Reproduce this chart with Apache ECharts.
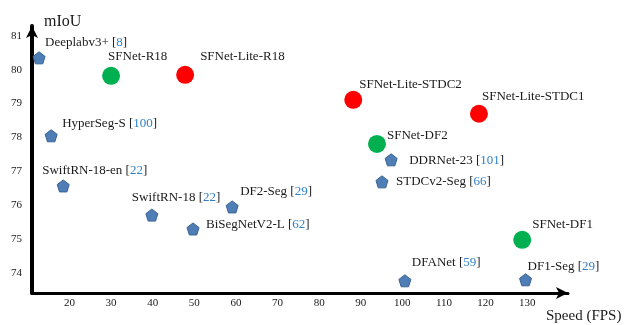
<!DOCTYPE html>
<html>
<head>
<meta charset="utf-8">
<script src="https://cdn.jsdelivr.net/npm/echarts@6/dist/echarts.min.js"></script>
<style>html,body{margin:0;padding:0;background:#fff}#c{width:626px;height:325px}</style>
</head>
<body>
<div id="c"></div>
<script>
// ---- data ----
const otherNames = ['Deeplabv3+','HyperSeg-S','SwiftRN-18-en','SwiftRN-18','DF2-Seg','BiSegNetV2-L','DDRNet-23','STDCv2-Seg','DFANet','DF1-Seg'];
const otherRefs  = ['8','100','22','22','29','62','101','66','59','29'];
const otherFPS   = [12.7, 15.6, 18.5, 39.8, 59.1, 49.7, 97.3, 95.1, 100.6, 129.6];
const otherMIoU  = [80.35, 78.05, 76.57, 75.71, 75.95, 75.30, 77.34, 76.69, 73.77, 73.80];

const sfnetNames = ['SFNet-R18','SFNet-DF2','SFNet-DF1'];
const sfnetFPS   = [30.0, 93.9, 128.8];
const sfnetMIoU  = [79.82, 77.81, 74.98];

const liteNames = ['SFNet-Lite-R18','SFNet-Lite-STDC2','SFNet-Lite-STDC1'];
const liteFPS   = [47.8, 88.2, 118.4];
const liteMIoU  = [79.85, 79.11, 78.70];

const xTicks = [20,30,40,50,60,70,80,90,100,110,120,130];
const yTicks = [74,75,76,77,78,79,80,81];

// ---- label layout (offsets from marker centre) ----
const otherOffsets = [[6,-15],[11,-12],[-21,-15],[-20,-17],[8,-15],[13,-4],[18,1],[14,0],[7,-18],[2,-13]];
const sfnetOffsets = [[-3,-19],[10,-8],[10,-15]];
const liteOffsets  = [[15,-18],[6,-15],[3,-17]];

const FONT = '"Liberation Serif","Times New Roman",serif';
const TXT = '#1a1a1a';
const CITE = '#2f80c8';

function lbl(off) {
  return {show:true, position:'inside', align:'left', verticalAlign:'middle', offset:off,
          fontFamily:FONT, fontSize:13, color:TXT};
}
const otherData = otherNames.map((n,i)=>({
  value:[otherFPS[i], otherMIoU[i]], name:n,
  label:Object.assign(lbl(otherOffsets[i]), {
    formatter: '{n|' + n + ' [}{c|' + otherRefs[i] + '}{n|]}',
    rich:{n:{fontFamily:FONT,fontSize:13,color:TXT}, c:{fontFamily:FONT,fontSize:13,color:CITE}}
  })
}));
const sfnetData = sfnetNames.map((n,i)=>({value:[sfnetFPS[i], sfnetMIoU[i]], name:n, label:Object.assign(lbl(sfnetOffsets[i]),{formatter:'{b}'})}));
const liteData = liteNames.map((n,i)=>({value:[liteFPS[i], liteMIoU[i]], name:n, label:Object.assign(lbl(liteOffsets[i]),{formatter:'{b}'})}));

const chart = echarts.init(document.getElementById('c'), null, {renderer:'canvas'});
chart.setOption({
  animation:false,
  backgroundColor:'#fff',
  grid:{left:32, right:58, top:26, bottom:32, containLabel:false},
  xAxis:{
    type:'value', min:11.0, max:139.8,
    name:'Speed (FPS)', nameLocation:'end', nameGap:-22,
    nameTextStyle:{fontFamily:FONT, fontSize:15, color:TXT, align:'left', verticalAlign:'top', padding:[16,0,0,0]},
    axisLine:{show:true, onZero:false, symbol:['none','arrow'], symbolSize:[9,12], lineStyle:{color:'#000', width:3}},
    axisTick:{show:false},
    splitLine:{show:false},
    axisLabel:{customValues:xTicks, fontFamily:FONT, fontSize:11, color:TXT, margin:5}
  },
  yAxis:{
    type:'value', min:73.41, max:81.29,
    name:'mIoU', nameLocation:'end', nameGap:4,
    nameTextStyle:{fontFamily:FONT, fontSize:16, color:TXT, align:'left', verticalAlign:'middle', padding:[0,0,0,12]},
    axisLine:{show:true, onZero:false, symbol:['none','arrow'], symbolSize:[9,12], lineStyle:{color:'#000', width:4}},
    axisTick:{show:false},
    splitLine:{show:false},
    axisLabel:{customValues:yTicks, fontFamily:FONT, fontSize:11, color:TXT, margin:10}
  },
  series:[
    {type:'scatter', data:otherData, symbol:'path://M0,-1 L0.951,-0.309 L0.588,0.809 L-0.588,0.809 L-0.951,-0.309 Z',
     symbolSize:12, itemStyle:{color:'#4f7db5', borderColor:'#3a6494', borderWidth:1, opacity:1}, z:3},
    {type:'scatter', data:sfnetData, symbol:'circle', symbolSize:18, itemStyle:{color:'#00b050', opacity:1}, z:3},
    {type:'scatter', data:liteData, symbol:'circle', symbolSize:18, itemStyle:{color:'#ff0000', opacity:1}, z:3}
  ]
});
</script>
</body>
</html>
